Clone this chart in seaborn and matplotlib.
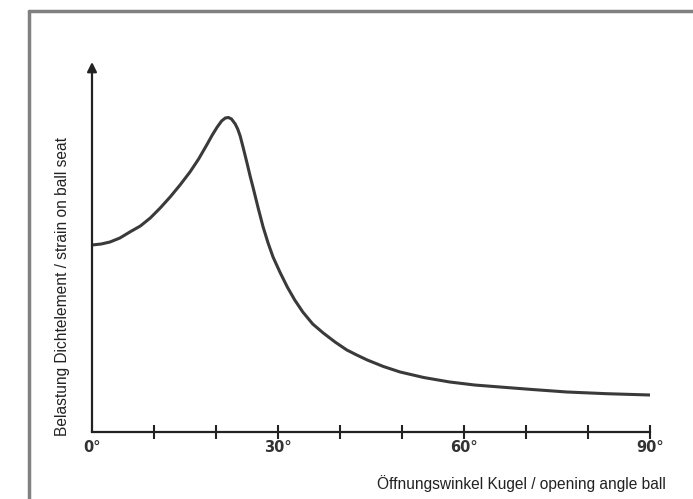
import matplotlib
matplotlib.use("Agg")
import matplotlib.pyplot as plt
import seaborn as sns
from matplotlib.lines import Line2D

# opening angle (deg) vs. relative load on the ball seat (arbitrary units)
angle_deg = [0.0, 1.5, 2.9, 4.5, 6.1, 7.8, 9.4, 11.0, 12.6, 14.2, 15.8, 17.2,
             18.5, 19.4, 20.2, 20.9, 21.5, 22.0, 22.5, 23.1, 23.5, 23.9, 24.4,
             25.0, 25.5, 26.0, 26.8, 27.6, 28.4, 29.2, 30.3, 31.5, 32.7, 34.0,
             35.6, 37.3, 39.2, 41.1, 42.7, 44.4, 47.0, 49.7, 53.5, 57.7, 61.7,
             65.8, 71.0, 76.6, 83.0, 90.0]
strain = [187, 188, 190, 194, 200, 206, 214, 224, 235, 247, 260, 273,
          287, 297, 305, 311, 314, 314.5, 313, 308, 303, 296, 284,
          269, 256, 244, 224, 205, 189, 175, 160, 145, 132, 120,
          108, 99, 90, 82, 77, 72, 65.5, 60, 54.5, 50, 47,
          45, 42.5, 40, 38.3, 37]

tick_pos = [0, 10, 20, 30, 40, 50, 60, 70, 80, 90]
tick_labels = ["0°", "", "", "30°", "", "", "60°", "", "", "90°"]

sns.set_theme(style="white")
plt.rcParams['font.family'] = ['Liberation Sans', 'DejaVu Sans']

fig = plt.figure(figsize=(6.93, 4.99), dpi=100)
W, H = 693, 499
ax = fig.add_axes([92 / W, (H - 432) / H, (650 - 92) / W, (432 - 62) / H])

sns.lineplot(x=angle_deg, y=strain, ax=ax, color="#3a3a3a", linewidth=2.2,
             solid_joinstyle="round", solid_capstyle="round")

ax.set_xlim(0, 90)
ax.set_ylim(0, 370)

for s in ["top", "right", "left"]:
    ax.spines[s].set_visible(False)
ax.spines["bottom"].set_color("#222222")
ax.spines["bottom"].set_linewidth(1.6)

# y axis with arrow head
ax.annotate("", xy=(0, 370), xytext=(0, 0), xycoords="data",
            arrowprops=dict(arrowstyle="-|>", color="#222222", lw=1.6,
                            mutation_scale=14, shrinkA=0, shrinkB=0),
            annotation_clip=False)

ax.set_xticks(tick_pos)
ax.set_xticklabels(tick_labels, family="DejaVu Sans", fontweight="bold",
                   fontsize=10.5, color="#333333")
ax.tick_params(axis="x", direction="inout", length=10, width=1.5,
               color="#222222", pad=1, bottom=True)
ax.xaxis.get_major_ticks()[0].tick1line.set_visible(False)
ax.set_yticks([])

fig.text(666 / W, 1 - 484 / H, "Öffnungswinkel Kugel / opening angle ball",
         ha="right", va="center", fontsize=11.2, color="#222222")
fig.text(63 / W, 1 - 287 / H, "Belastung Dichtelement / strain on ball seat",
         ha="center", va="center", rotation=90, fontsize=11.2, color="#222222")

# grey frame around the picture (open to right and bottom)
frame_kw = dict(color="#808080", linewidth=2.5, transform=fig.transFigure)
fig.add_artist(Line2D([29 / W, 1.0], [1 - 11 / H, 1 - 11 / H], **frame_kw))
fig.add_artist(Line2D([29 / W, 29 / W], [0.0, 1 - 11 / H], **frame_kw))

fig.savefig("out.png", dpi=100)
